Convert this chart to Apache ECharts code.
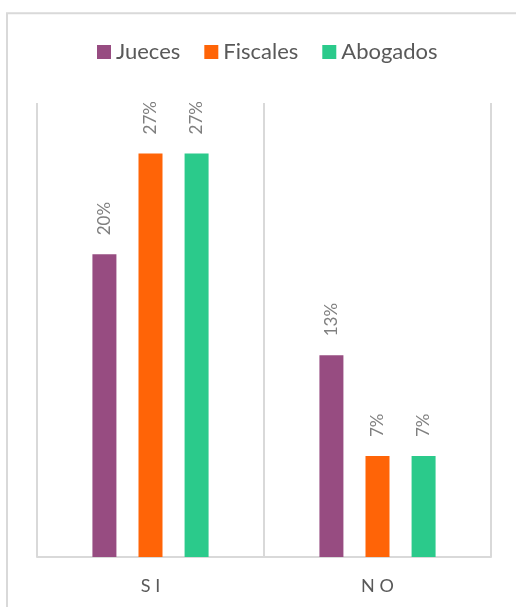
<!DOCTYPE html>
<html>
<head>
<meta charset="utf-8">
<style>
  html, body { margin: 0; padding: 0; background: #fff; }
  #chart { width: 516px; height: 607px; }
</style>
<script src="https://cdn.jsdelivr.net/npm/echarts@6/dist/echarts.min.js"></script>
</head>
<body>
<div id="chart"></div>
<script>
// Survey answers by group (share of respondents, %)
const categories = ['SI', 'NO'];
const seriesNames = ['Jueces', 'Fiscales', 'Abogados'];
const jueces = [20, 13.33];
const fiscales = [26.67, 6.67];
const abogados = [26.67, 6.67];
const colors = ['#974C81', '#FF6407', '#2BCA8B'];

const values = [jueces, fiscales, abogados];
const chart = echarts.init(document.getElementById('chart'), null, { renderer: 'canvas' });

const labelStyle = {
  show: true,
  position: 'top',
  rotate: 90,
  align: 'left',
  verticalAlign: 'middle',
  distance: 19,
  color: '#7f7f7f',
  fontFamily: 'Lato',
  fontSize: 17,
  formatter: p => Math.round(p.value) + '%'
};

chart.setOption({
  animation: false,
  backgroundColor: '#ffffff',
  graphic: [{
    type: 'rect',
    shape: { x: 7, y: 13.3, width: 600, height: 700 },
    style: { fill: 'none', stroke: '#d9d9d9', lineWidth: 2 },
    silent: true
  }],
  legend: {
    left: 92,
    top: 36,
    itemWidth: 14,
    itemHeight: 14,
    itemGap: 24,
    icon: 'rect',
    textStyle: { color: '#595959', fontFamily: 'Lato', fontSize: 22 },
    data: seriesNames
  },
  grid: { left: 37, right: 25, top: 103, bottom: 50, containLabel: false },
  xAxis: {
    type: 'category',
    data: categories,
    axisLine: { show: true, lineStyle: { color: '#d9d9d9', width: 2 } },
    axisTick: { show: false },
    splitLine: { show: true, lineStyle: { color: '#d9d9d9', width: 2 } },
    axisLabel: {
      color: '#595959',
      fontFamily: 'Lato',
      fontSize: 18,
      margin: 20,
      formatter: v => v.split('').join(' ')
    }
  },
  yAxis: {
    type: 'value',
    min: 0,
    max: 30,
    show: false,
    splitLine: { show: false }
  },
  series: seriesNames.map((name, i) => ({
    name: name,
    type: 'bar',
    data: values[i],
    barWidth: 24,
    barGap: '92%',
    itemStyle: { color: colors[i] },
    label: labelStyle
  }))
});
</script>
</body>
</html>
